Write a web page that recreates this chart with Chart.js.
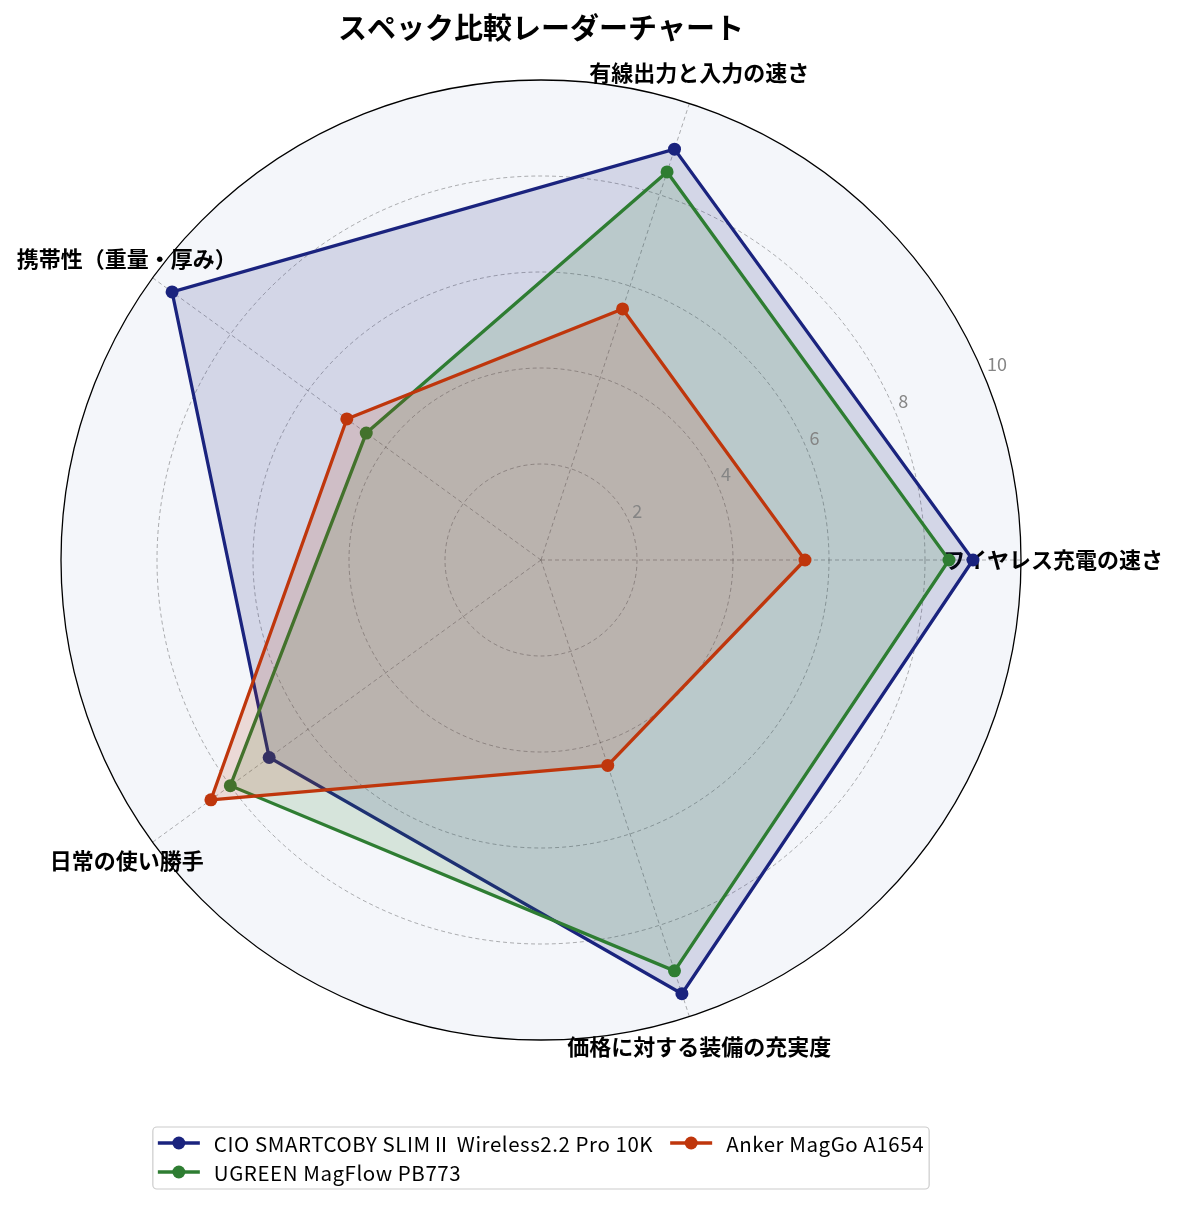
<!DOCTYPE html>
<html>
<head>
<meta charset="utf-8">
<script src="https://cdn.jsdelivr.net/npm/chart.js@4.4.0/dist/chart.umd.min.js"></script>
<style>
  html, body { margin: 0; padding: 0; background: #fff; }
  canvas { display: block; }
</style>
</head>
<body>
<canvas id="radar" width="1181" height="1205"></canvas>
<script>
// categories, counter-clockwise from the right like the original
const categories = ['ワイヤレス充電の速さ', '有線出力と入力の速さ', '携帯性（重量・厚み）', '日常の使い勝手', '価格に対する装備の充実度'];
const seriesNames = ['CIO SMARTCOBY SLIMⅡ Wireless2.2 Pro 10K', 'UGREEN MagFlow PB773', 'Anker MagGo A1654'];
const cioScores = [9, 9, 9.5, 7, 9.5];
const ugreenScores = [8.5, 8.5, 4.5, 8, 9];
const ankerScores = [5.5, 5.5, 5, 8.5, 4.5];
const tickValues = [2, 4, 6, 8, 10];

const FONT = '"Noto Sans CJK JP", "Noto Sans", sans-serif';
const colors = ['#1a237e', '#2e7d32', '#bf360c'];
const fills = ['rgba(26,35,126,0.15)', 'rgba(46,125,50,0.15)', 'rgba(191,54,12,0.15)'];

// Chart.js goes clockwise, so flip everything after the first axis
const toCw = arr => [arr[0], ...arr.slice(1).reverse()];

const polarBg = {
    id: 'polarBg',
    beforeDraw(chart) {
        const r = chart.scales.r;
        const ctx = chart.ctx;
        ctx.save();
        ctx.beginPath();
        ctx.arc(r.xCenter, r.yCenter, r.drawingArea, 0, Math.PI * 2);
        ctx.fillStyle = '#f4f6fa';
        ctx.fill();
        ctx.restore();
    }
};

const axisLabels = {
    id: 'axisLabels',
    beforeDatasetsDraw(chart) {
        const r = chart.scales.r;
        const ctx = chart.ctx;
        ctx.save();
        ctx.font = 'bold 22px ' + FONT;
        ctx.fillStyle = '#000';
        ctx.textAlign = 'center';
        ctx.textBaseline = 'middle';
        chart.data.labels.forEach((lab, i) => {
            const p = r.getPointPosition(i, r.drawingArea + 32);
            ctx.fillText(lab, p.x, p.y);
        });
        ctx.restore();
    },
    afterDatasetsDraw(chart) {
        // radial tick labels along 22.5 deg like matplotlib
        const r = chart.scales.r;
        const ctx = chart.ctx;
        const a = 22.5 * Math.PI / 180;
        ctx.save();
        ctx.font = '18px ' + FONT;
        ctx.fillStyle = '#858585';
        ctx.textAlign = 'left';
        ctx.textBaseline = 'bottom';
        tickValues.forEach(v => {
            const d = r.getDistanceFromCenterForValue(v);
            ctx.fillText(String(v), r.xCenter + d * Math.cos(a) + 2.5, r.yCenter - d * Math.sin(a) - 3);
        });
        ctx.restore();
    }
};

const legendBox = {
    id: 'legendBox',
    afterDraw(chart) {
        const r = chart.scales.r;
        const ctx = chart.ctx;
        const ds = chart.data.datasets;
        const rows = 2, lineLen = 42, textGap = 14, colGap = 17, pad = 5, rowH = 29;
        ctx.save();
        ctx.font = '20.5px ' + FONT;
        ctx.letterSpacing = '0.55px';
        const cols = [];
        for (let i = 0; i < ds.length; i += rows) cols.push(ds.slice(i, i + rows));
        const colW = cols.map(c => lineLen + textGap + Math.max(...c.map(d => ctx.measureText(d.label).width)));
        const totalW = pad * 2 + colW.reduce((s, w) => s + w, 0) + colGap * (cols.length - 1);
        const boxH = 62;
        const left = r.xCenter - totalW / 2;
        const top = r.yCenter + r.drawingArea + 87;

        ctx.beginPath();
        ctx.roundRect(left, top, totalW, boxH, 4);
        ctx.fillStyle = 'rgba(255,255,255,0.8)';
        ctx.fill();
        ctx.strokeStyle = '#cccccc';
        ctx.lineWidth = 1.2;
        ctx.stroke();

        let x = left + pad;
        cols.forEach((c, ci) => {
            c.forEach((d, ri) => {
                const y = top + 16 + ri * rowH;
                ctx.strokeStyle = d.borderColor;
                ctx.lineWidth = 3.3;
                ctx.beginPath();
                ctx.moveTo(x, y);
                ctx.lineTo(x + lineLen, y);
                ctx.stroke();
                ctx.fillStyle = d.borderColor;
                ctx.beginPath();
                ctx.arc(x + lineLen / 2, y, 6.5, 0, Math.PI * 2);
                ctx.fill();
                ctx.fillStyle = '#000';
                ctx.textAlign = 'left';
                ctx.textBaseline = 'middle';
                ctx.fillText(d.label, x + lineLen + textGap, y + 1);
            });
            x += colW[ci] + colGap;
        });
        ctx.restore();
    }
};

const allScores = [cioScores, ugreenScores, ankerScores];

new Chart(document.getElementById('radar'), {
    type: 'radar',
    data: {
        labels: toCw(categories),
        datasets: seriesNames.map((name, i) => ({
            label: name,
            data: toCw(allScores[i]),
            borderColor: colors[i],
            backgroundColor: fills[i],
            borderWidth: 3.3,
            pointRadius: 6.5,
            pointBackgroundColor: colors[i],
            pointBorderColor: colors[i],
            pointBorderWidth: 0,
            fill: true,
            order: seriesNames.length - i
        }))
    },
    options: {
        responsive: false,
        animation: false,
        layout: { padding: { left: 0, right: 99, top: 0, bottom: 165 } },
        plugins: {
            legend: { display: false },
            tooltip: { enabled: false },
            title: {
                display: true,
                text: 'スペック比較レーダーチャート',
                color: '#000',
                font: { family: FONT, size: 29, weight: 'bold' },
                padding: { top: 10.6, bottom: 34.6 }
            }
        },
        scales: {
            r: {
                min: 0,
                max: 10,
                startAngle: 90,
                ticks: { display: false, stepSize: 2 },
                pointLabels: { display: false },
                grid: {
                    circular: true,
                    color: c => (c.tick && c.tick.value === 10) ? '#000' : 'rgba(0,0,0,0.38)',
                    lineWidth: c => (c.tick && c.tick.value === 10) ? 1.3 : 0.8
                },
                border: { dash: c => (c.tick && c.tick.value === 10) ? [] : [4, 3] },
                angleLines: { color: 'rgba(0,0,0,0.38)', lineWidth: 0.8, borderDash: [4, 3] }
            }
        }
    },
    plugins: [polarBg, axisLabels, legendBox]
});
</script>
</body>
</html>
